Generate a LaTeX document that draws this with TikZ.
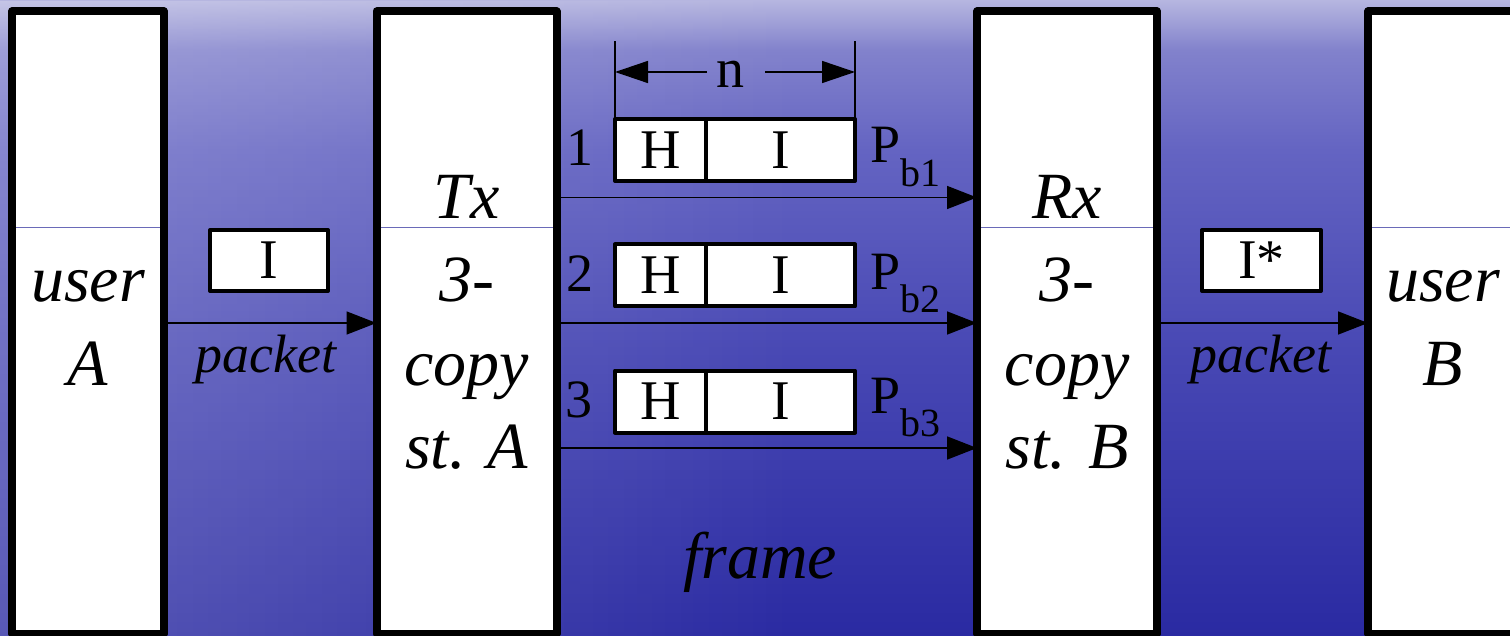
\documentclass[tikz,border=0pt]{standalone}
\usepackage{fontspec}
\setmainfont{Liberation Serif}[ItalicFont={Liberation Serif Italic}, BoldFont={Liberation Serif Bold}]
\usetikzlibrary{arrows.meta,calc,fadings}
\definecolor{bgA0}{HTML}{B6B6E0}
\definecolor{bgA1}{HTML}{A2A2D8}
\definecolor{bgA2}{HTML}{8282CC}
\definecolor{bgB}{HTML}{6464C2}
\definecolor{bgC}{HTML}{4848B4}
\definecolor{bgD}{HTML}{2A2AA2}
\definecolor{sepblue}{HTML}{6A6AB8}
\pgfdeclareverticalshading{bgshade}{100bp}{color(0bp)=(bgD); color(25bp)=(bgD); color(47.5bp)=(bgC); color(63.2bp)=(bgB); color(71.1bp)=(bgA2); color(73.4bp)=(bgA1); color(75bp)=(bgA0); color(100bp)=(bgA0)}
\begin{document}
\begin{tikzpicture}[x=1pt,y=-1pt,
  bigbox/.style={draw=black, fill=white, line width=8pt, rectangle, inner sep=0pt, outer sep=0pt, line join=round},
  smallbox/.style={draw=black, fill=white, line width=4pt, rectangle, inner sep=0pt, outer sep=0pt, line join=round, font=\fontsize{56}{60}\selectfont},
  big/.style={font=\fontsize{66}{70}\selectfont\itshape, anchor=base, inner sep=0pt},
  pk/.style={font=\fontsize{54}{60}\selectfont\itshape, anchor=base, inner sep=0pt},
  reg/.style={font=\fontsize{54}{60}\selectfont, anchor=base, inner sep=0pt},
  conn/.style={line width=1.6pt, -{Triangle[length=30pt,width=23pt]}},
  dimline/.style={line width=1.5pt},
  dimarrow/.style={line width=1.5pt, -{Triangle[length=33pt,width=22pt]}},
  sepline/.style={line width=1pt, draw=sepblue}
]
\useasboundingbox (0,0) rectangle (1510,636);
\shade[shading=bgshade] (0,0) rectangle (1510,636);
\fill[white, fill opacity=0.22, path fading=east] (0,0) rectangle (800,636);

% big boxes
\node[bigbox, minimum width=152pt, minimum height=622pt] (userA) at (88,322.5) {};
\node[bigbox, minimum width=180pt, minimum height=622pt] (tx) at (466.5,322.5) {};
\node[bigbox, minimum width=180pt, minimum height=622pt] (rx) at (1067,322.5) {};
\node[bigbox, minimum width=150pt, minimum height=622pt] (userB) at (1443,322.5) {};

% thin separators
\coordinate (sepy) at (0,228);
\foreach \b in {userA,tx,rx,userB}{
  \draw[sepline] ($(\b.west|-sepy)+(4,0)$) -- ($(\b.east|-sepy)+(-4,0)$);
}

% box texts
\node[big] (tA1) at (88,302) {user};
\node[big] (tA2) at (88,385) {A};
\node[big] (tT1) at (466.5,219) {Tx};
\node[big] (tT2) at (466.5,302) {3-};
\node[big] (tT3) at (466.5,385) {copy};
\node[big] (tT4) at (466.5,468) {st. A};
\node[big] (tR1) at (1067,219) {Rx};
\node[big] (tR2) at (1067,302) {3-};
\node[big] (tR3) at (1067,385) {copy};
\node[big] (tR4) at (1067,468) {st. B};
\node[big] (tB1) at (1443,302) {user};
\node[big] (tB2) at (1443,385) {B};

% packets
\node[smallbox, minimum width=118pt, minimum height=61pt] (pktA) at (269,260.5) {I};
\node[smallbox, minimum width=119pt, minimum height=61pt] (pktB) at (1261.5,260.5) {I*};
\coordinate (ymid) at (0,323);
\draw[conn] (userA.east|-ymid) -- (tx.west|-ymid);
\draw[conn] (rx.east|-ymid) -- (userB.west|-ymid);
\node[pk] (pkA) at (266,372) {packet};
\node[pk] (pkB) at (1261,372) {packet};

% frame cells
\node[smallbox, minimum width=91pt, minimum height=62pt] (h1) at (660.5,150) {H};
\node[smallbox, minimum width=149pt, minimum height=62pt] (i1) at (780.5,150) {I};
\node[smallbox, minimum width=91pt, minimum height=62pt] (h2) at (660.5,275.5) {H};
\node[smallbox, minimum width=149pt, minimum height=62pt] (i2) at (780.5,275.5) {I};
\node[smallbox, minimum width=91pt, minimum height=62pt] (h3) at (660.5,401.5) {H};
\node[smallbox, minimum width=149pt, minimum height=62pt] (i3) at (780.5,401.5) {I};

\node[reg] (n1) at (580,166) {1};
\node[reg] (n2) at (580,292) {2};
\node[reg] (n3) at (579,417) {3};
\node[reg, anchor=base west] (p1) at (870,163) {P\raisebox{-24pt}{\fontsize{40}{40}\selectfont b1}};
\node[reg, anchor=base west] (p2) at (870,290) {P\raisebox{-23pt}{\fontsize{40}{40}\selectfont b2}};
\node[reg, anchor=base west] (p3) at (870,413) {P\raisebox{-23pt}{\fontsize{40}{40}\selectfont b3}};

% frame arrows
\coordinate (ya) at (0,197.5);
\coordinate (yb) at (0,323);
\coordinate (yc) at (0,448);
\draw[conn] (tx.east|-ya) -- (rx.west|-ya);
\draw[conn] (tx.east|-yb) -- (rx.west|-yb);
\draw[conn] (tx.east|-yc) -- (rx.west|-yc);

% dimension n
\coordinate (dimL) at (615,41);
\coordinate (dimR) at (855,41);
\draw[dimline] (h1.north west) -- (dimL);
\draw[dimline] (i1.north east) -- (dimR);
\node[reg, font=\fontsize{56}{60}\selectfont] (nlab) at (730,88) {n};
\coordinate (nl) at (707,72);
\coordinate (nr) at (765,72);
\draw[dimarrow] (nl) -- (dimL|-nl);
\draw[dimarrow] (nr) -- (dimR|-nr);

\node[big] (frame) at (760,578) {frame};
\end{tikzpicture}
\end{document}
